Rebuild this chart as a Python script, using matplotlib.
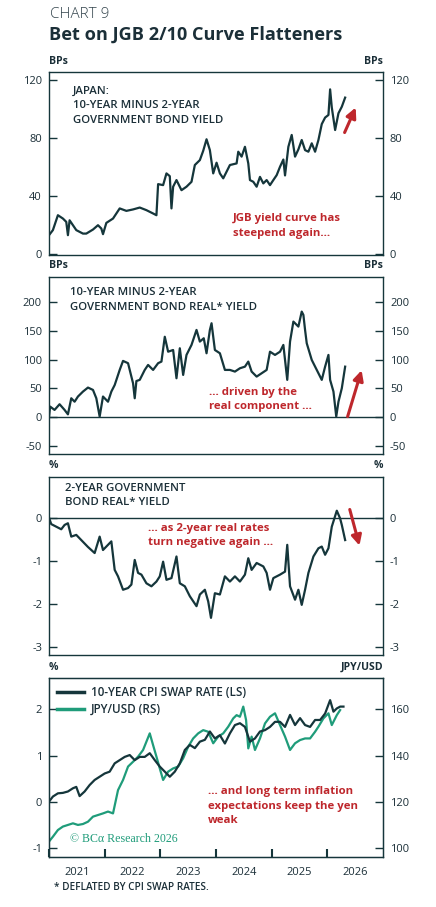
import matplotlib
matplotlib.use("Agg")
from matplotlib import pyplot as plt

# ---- data (decimal years) ----
curve_x = [2021.00, 2021.07, 2021.16, 2021.25, 2021.31, 2021.34, 2021.37, 2021.49, 2021.61, 2021.67,
           2021.79, 2021.88, 2021.94, 2021.97, 2022.03, 2022.15, 2022.27, 2022.39, 2022.51, 2022.63,
           2022.75, 2022.87, 2022.93, 2022.96, 2023.05, 2023.11, 2023.17, 2023.20, 2023.23, 2023.29,
           2023.38, 2023.47, 2023.56, 2023.62, 2023.71, 2023.77, 2023.83, 2023.89, 2023.95, 2024.01,
           2024.07, 2024.13, 2024.25, 2024.37, 2024.40, 2024.46, 2024.52, 2024.58, 2024.61, 2024.67,
           2024.73, 2024.79, 2024.85, 2024.91, 2024.97, 2025.03, 2025.09, 2025.15, 2025.21, 2025.24,
           2025.30, 2025.36, 2025.42, 2025.48, 2025.54, 2025.60, 2025.66, 2025.72, 2025.78, 2025.84,
           2025.90, 2025.96, 2026.02, 2026.05, 2026.08, 2026.14, 2026.20, 2026.26, 2026.32]
curve_bp = [12.7, 16.2, 26.5, 24.2, 21.9, 12.7, 23.0, 16.2, 13.8, 13.8,
            16.6, 19.6, 17.3, 13.4, 21.2, 24.2, 31.2, 29.5, 30.5, 31.8,
            30.0, 27.7, 26.5, 48.0, 47.3, 55.4, 53.5, 31.2, 46.2, 50.8,
            43.8, 46.2, 49.6, 61.2, 64.6, 71.0, 79.0, 71.5, 55.4, 62.8,
            55.4, 52.0, 61.2, 62.3, 70.4, 67.0, 73.8, 62.3, 50.8, 49.6,
            46.2, 53.0, 48.5, 50.8, 47.3, 50.8, 54.2, 60.0, 65.0, 54.0,
            73.8, 82.0, 67.0, 72.0, 78.5, 71.5, 70.4, 76.2, 70.4, 78.5,
            89.5, 94.0, 95.8, 113.5, 101.0, 85.4, 97.0, 101.5, 107.8]

real_x = [2021.00, 2021.02, 2021.10, 2021.19, 2021.28, 2021.34, 2021.40, 2021.46, 2021.52, 2021.61,
          2021.70, 2021.79, 2021.85, 2021.91, 2021.97, 2022.06, 2022.12, 2022.18, 2022.27, 2022.33,
          2022.42, 2022.51, 2022.54, 2022.57, 2022.63, 2022.72, 2022.78, 2022.87, 2022.96, 2023.02,
          2023.08, 2023.14, 2023.23, 2023.29, 2023.35, 2023.41, 2023.47, 2023.56, 2023.65, 2023.71,
          2023.78, 2023.83, 2023.89, 2023.92, 2023.98, 2024.07, 2024.16, 2024.25, 2024.34, 2024.43,
          2024.52, 2024.58, 2024.64, 2024.73, 2024.82, 2024.91, 2024.97, 2025.06, 2025.15, 2025.21,
          2025.28, 2025.33, 2025.39, 2025.48, 2025.54, 2025.57, 2025.60, 2025.63, 2025.72, 2025.81,
          2025.90, 2025.96, 2026.02, 2026.05, 2026.11, 2026.16, 2026.20, 2026.26, 2026.32]
real_bp = [0.0, 18.5, 12.7, 22.6, 12.7, 5.0, 33.0, 27.0, 36.0, 44.6,
           51.6, 47.5, 33.0, 1.2, 36.0, 27.0, 44.6, 56.0, 82.3, 98.0,
           94.0, 59.0, 33.0, 63.0, 65.0, 82.3, 91.0, 82.3, 94.0, 96.8,
           140.0, 114.0, 117.0, 67.8, 120.0, 73.6, 108.4, 125.8, 151.9, 131.6,
           137.4, 111.3, 151.9, 163.5, 117.0, 111.3, 82.3, 82.3, 79.4, 85.2,
           88.0, 96.8, 79.4, 70.7, 76.5, 82.3, 114.0, 108.4, 114.0, 125.8,
           65.0, 131.6, 166.4, 157.7, 183.8, 178.0, 151.9, 128.7, 99.7, 82.3,
           65.0, 88.0, 108.4, 65.0, 44.6, 1.2, 27.0, 50.4, 88.0]

real2_x = [2021.00, 2021.04, 2021.13, 2021.22, 2021.28, 2021.34, 2021.40, 2021.49, 2021.58, 2021.70,
           2021.82, 2021.91, 2021.97, 2022.06, 2022.12, 2022.18, 2022.24, 2022.33, 2022.42, 2022.48,
           2022.54, 2022.60, 2022.66, 2022.75, 2022.84, 2022.93, 2022.99, 2023.05, 2023.11, 2023.20,
           2023.29, 2023.35, 2023.44, 2023.53, 2023.65, 2023.71, 2023.80, 2023.86, 2023.91, 2023.98,
           2024.07, 2024.16, 2024.25, 2024.34, 2024.43, 2024.52, 2024.58, 2024.64, 2024.73, 2024.85,
           2024.91, 2024.97, 2025.03, 2025.15, 2025.24, 2025.28, 2025.33, 2025.42, 2025.48, 2025.54,
           2025.60, 2025.66, 2025.75, 2025.84, 2025.90, 2025.96, 2026.02, 2026.08, 2026.17, 2026.23,
           2026.26, 2026.32]
real2_pct = [0.00, -0.15, -0.21, -0.27, -0.17, -0.13, -0.44, -0.40, -0.52, -0.68,
             -0.82, -0.44, -0.75, -0.63, -0.55, -1.21, -1.36, -1.67, -1.63, -1.55,
             -0.98, -1.28, -1.32, -1.52, -1.59, -1.48, -1.36, -1.02, -1.44, -1.40,
             -0.90, -1.52, -1.59, -1.82, -2.05, -1.78, -1.67, -1.94, -2.32, -1.75,
             -1.78, -1.36, -1.48, -1.36, -1.48, -1.32, -0.94, -1.21, -1.05, -1.13,
             -1.28, -1.67, -1.40, -1.32, -1.25, -0.63, -1.59, -1.90, -1.67, -2.02,
             -1.67, -1.28, -0.90, -0.71, -0.67, -0.86, -0.71, -0.21, 0.16, -0.02,
             -0.17, -0.52]

swap_x = [2021.00, 2021.07, 2021.16, 2021.25, 2021.34, 2021.43, 2021.49, 2021.55, 2021.64, 2021.73,
          2021.82, 2021.91, 2022.00, 2022.09, 2022.18, 2022.27, 2022.36, 2022.45, 2022.54, 2022.63,
          2022.72, 2022.81, 2022.90, 2022.99, 2023.08, 2023.17, 2023.26, 2023.35, 2023.44, 2023.53,
          2023.62, 2023.71, 2023.80, 2023.89, 2023.98, 2024.07, 2024.16, 2024.25, 2024.34, 2024.43,
          2024.52, 2024.61, 2024.70, 2024.79, 2024.88, 2024.97, 2025.06, 2025.15, 2025.24, 2025.33,
          2025.42, 2025.51, 2025.60, 2025.69, 2025.78, 2025.87, 2025.96, 2026.05, 2026.11, 2026.17,
          2026.23, 2026.29]
swap_pct = [0.00, 0.11, 0.18, 0.19, 0.22, 0.29, 0.32, 0.12, 0.22, 0.36,
            0.47, 0.54, 0.61, 0.65, 0.83, 0.90, 0.97, 1.01, 0.90, 0.97,
            0.97, 1.05, 0.90, 0.76, 0.65, 0.54, 0.65, 0.83, 1.12, 1.23,
            1.16, 1.30, 1.34, 1.52, 1.37, 1.44, 1.26, 1.48, 1.66, 1.70,
            1.62, 1.30, 1.37, 1.52, 1.55, 1.62, 1.73, 1.73, 1.62, 1.88,
            1.66, 1.81, 1.66, 1.62, 1.77, 1.77, 1.91, 2.20, 1.95, 2.02,
            2.06, 2.06]

jpy_x = [2021.00, 2021.07, 2021.16, 2021.25, 2021.34, 2021.43, 2021.52, 2021.61, 2021.70, 2021.79,
         2021.88, 2021.97, 2022.06, 2022.15, 2022.24, 2022.33, 2022.42, 2022.51, 2022.60, 2022.69,
         2022.75, 2022.81, 2022.87, 2022.93, 2022.99, 2023.05, 2023.14, 2023.23, 2023.32, 2023.41,
         2023.50, 2023.59, 2023.68, 2023.77, 2023.86, 2023.95, 2024.04, 2024.13, 2024.22, 2024.31,
         2024.37, 2024.43, 2024.49, 2024.54, 2024.58, 2024.64, 2024.70, 2024.79, 2024.88, 2024.97,
         2025.06, 2025.15, 2025.24, 2025.33, 2025.42, 2025.51, 2025.60, 2025.69, 2025.78, 2025.84,
         2025.93, 2026.02, 2026.08, 2026.17, 2026.23]
jpy_usd = [102.7, 104.8, 107.7, 109.2, 109.9, 110.6, 109.9, 110.3, 111.3, 113.5,
           114.2, 114.9, 115.7, 114.9, 125.0, 129.4, 135.2, 137.3, 139.5, 142.4,
           146.0, 149.6, 144.5, 139.5, 134.4, 129.4, 133.0, 134.4, 135.2, 138.8,
           143.8, 147.4, 149.6, 151.0, 150.3, 145.3, 148.2, 149.6, 152.5, 156.1,
           157.5, 156.8, 161.2, 155.4, 143.1, 148.2, 142.4, 147.4, 153.9, 156.8,
           158.3, 153.2, 148.2, 142.4, 145.3, 146.7, 147.4, 147.4, 150.3, 152.5,
           156.1, 158.3, 153.2, 157.5, 159.7]

years = [2021, 2022, 2023, 2024, 2025, 2026]

DARK = '#15363b'
GREEN = '#1f9c7a'
RED = '#be272c'
TXT = '#1b2f38'
W, H = 436, 907

plt.rcParams['font.family'] = ['Open Sans', 'DejaVu Sans']


def rect(top, bottom, left=49, right=383):
    return [left / W, 1 - bottom / H, (right - left) / W, (bottom - top) / H]


def px(x, y):
    return x / W, 1 - y / H


def style(ax, ylim, yticks):
    ax.set_xlim(2021, 2027)
    ax.set_ylim(*ylim)
    for s in ax.spines.values():
        s.set_color(DARK)
        s.set_linewidth(1.0)
    ax.set_yticks(yticks)
    ax.set_yticklabels([f'{v:g}' for v in yticks])
    ax.tick_params(axis='y', direction='in', length=6, width=1, color=DARK,
                   left=True, right=True, labelleft=True, labelright=True,
                   labelsize=8, labelcolor=TXT, pad=5)
    ax.tick_params(axis='x', bottom=False, labelbottom=False)


def unit(text, y, right=False):
    fig.text(*px(383 if right else 49, y), text, fontsize=7.6, color=TXT, fontweight='bold',
             va='center', ha='right' if right else 'left')


def note(x, y, text, red=False):
    fig.text(*px(x, y), text, fontsize=8.2 if red else 8.2, color=RED if red else TXT,
             fontweight='bold' if red else 'semibold', va='center', linespacing=1.4)


arrow = dict(arrowstyle='-|>,head_length=0.6,head_width=0.3', color=RED, lw=2.2)

fig = plt.figure(figsize=(W / 100, H / 100), dpi=100)

fig.text(*px(50, 15), 'CHART 9', fontsize=11, color='#33444c', va='center', ha='left',
         fontweight='light')
fig.text(*px(49, 35), 'Bet on JGB 2/10 Curve Flatteners', fontsize=13.1, color=TXT,
         va='center', ha='left', fontweight='bold')

# panel 1
ax1 = fig.add_axes(rect(72, 255))
ax1.plot(curve_x, curve_bp, color=DARK, lw=1.6)
style(ax1, (-1, 125.5), [0, 40, 80, 120])
unit('BPs', 61)
unit('BPs', 61, right=True)
note(73, 106, 'JAPAN:\n10-YEAR MINUS 2-YEAR\nGOVERNMENT BOND YIELD')
note(233, 226, 'JGB yield curve has\nsteepend again...', red=True)
ax1.annotate('', xy=(2026.53, 102.7), xytext=(2026.29, 81.9), arrowprops=arrow)

# panel 2
ax2 = fig.add_axes(rect(277, 454))
ax2.axhline(0, color=DARK, lw=1.0)
ax2.plot(real_x, real_bp, color=DARK, lw=1.6)
style(ax2, (-64, 244), [-50, 0, 50, 100, 150, 200])
unit('BPs', 266)
unit('BPs', 266, right=True)
note(70, 300, '10-YEAR MINUS 2-YEAR\nGOVERNMENT BOND REAL* YIELD')
note(209, 399.5, '... driven by the\nreal component ...', red=True)
ax2.annotate('', xy=(2026.63, 86.4), xytext=(2026.35, -3.5), arrowprops=arrow)

# panel 3
ax3 = fig.add_axes(rect(477, 655))
ax3.axhline(0, color=DARK, lw=1.0)
ax3.plot(real2_x, real2_pct, color=DARK, lw=1.6)
style(ax3, (-3.18, 0.94), [-3, -2, -1, 0])
unit('%', 466)
unit('%', 466, right=True)
note(65, 495.5, '2-YEAR GOVERNMENT\nBOND REAL* YIELD')
note(148, 535.5, '... as 2-year real rates\nturn negative again ...', red=True)
ax3.annotate('', xy=(2026.59, -0.71), xytext=(2026.39, 0.25), arrowprops=arrow)

# panel 4
ax4 = fig.add_axes(rect(678, 857))
ax4r = ax4.twinx()
ax4r.plot(jpy_x, jpy_usd, color=GREEN, lw=1.6, zorder=2)
ax4.plot(swap_x, swap_pct, color=DARK, lw=1.6, zorder=3)
style(ax4, (-1.2, 2.68), [-1, 0, 1, 2])
ax4.tick_params(axis='y', right=False, labelright=False)
ax4r.set_ylim(96, 173.6)
ax4r.set_yticks([100, 120, 140, 160])
ax4r.tick_params(axis='y', direction='in', length=6, width=1, color=DARK,
                 labelsize=8, labelcolor=TXT, pad=5)
for s in ax4r.spines.values():
    s.set_color(DARK)
ax4.set_zorder(ax4r.get_zorder() + 1)
ax4.patch.set_visible(False)
ax4.set_xticks(years)
ax4.set_xticks([y + 0.5 for y in years], minor=True)
ax4.set_xticklabels([str(y) for y in years], minor=True)
ax4.tick_params(axis='x', which='major', bottom=True, direction='in', length=6, width=1.5,
                color=DARK, labelbottom=False)
ax4.tick_params(axis='x', which='minor', bottom=True, length=0, labelbottom=True,
                labelsize=8, labelcolor=TXT, pad=7)
unit('%', 667)
unit('JPY/USD', 667, right=True)
l1, = ax4.plot([], [], color=DARK, lw=2.5)
l2, = ax4.plot([], [], color=GREEN, lw=2.5)
ax4.legend([l1, l2], ['10-YEAR CPI SWAP RATE (LS)', 'JPY/USD (RS)'], loc='upper left',
           frameon=False, handlelength=2.3, handletextpad=0.6,
           borderaxespad=0.35, borderpad=0.35, labelspacing=0.35, labelcolor=TXT,
           prop={'weight': 'semibold', 'size': 8.4})
note(208, 806, '... and long term inflation\nexpectations keep the yen\nweak', red=True)
fig.text(*px(70, 839), '© BCα Research 2026', fontsize=8.6, color=GREEN, va='center',
         family=['Liberation Serif', 'DejaVu Serif'])
fig.text(*px(54, 888), '* DEFLATED BY CPI SWAP RATES.', fontsize=7.2, color=TXT,
         fontweight='semibold', va='center')

fig.savefig('out.png', dpi=100, facecolor='white')
